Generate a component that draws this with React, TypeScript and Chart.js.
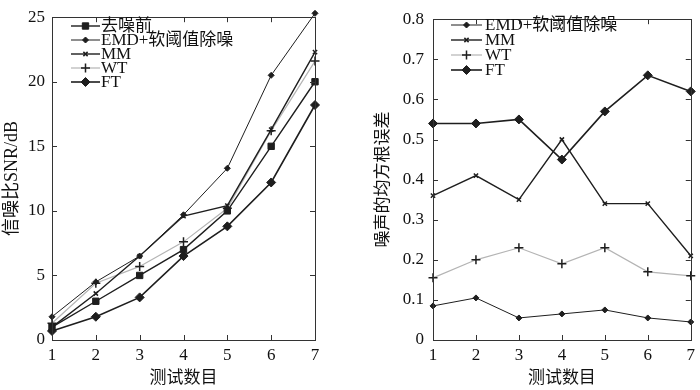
import React, { useEffect, useRef } from 'react';
import { Chart, registerables } from 'chart.js';
import { drawPoint } from 'chart.js/helpers';

Chart.register(...registerables);

// ---------- data ----------
const testNumbers = ['1', '2', '3', '4', '5', '6', '7'];

const snrBefore = [1.0, 3.0, 5.0, 7.0, 10.0, 15.0, 20.0];
const snrEmd = [1.8, 4.5, 6.5, 9.7, 13.3, 20.5, 25.3];
const snrMm = [1.0, 3.6, 6.5, 9.6, 10.4, 16.3, 22.3];
const snrWt = [1.3, 4.4, 5.7, 7.6, 10.2, 16.2, 21.6];
const snrFt = [0.7, 1.8, 3.3, 6.5, 8.8, 12.2, 18.2];

const rmseEmd = [0.085, 0.105, 0.055, 0.065, 0.075, 0.055, 0.045];
const rmseMm = [0.36, 0.41, 0.35, 0.5, 0.34, 0.34, 0.21];
const rmseWt = [0.155, 0.2, 0.23, 0.19, 0.23, 0.17, 0.16];
const rmseFt = [0.54, 0.54, 0.55, 0.45, 0.57, 0.66, 0.62];

const seriesNames = ['去噪前', 'EMD+软阈值除噪', 'MM', 'WT', 'FT'];
const xTitle = '测试数目';
const snrTitle = '信噪比SNR/dB';
const rmseTitle = '噪声的均方根误差';

const SERIF = '"Liberation Serif", "Noto Sans CJK SC", serif';
const DARK = '#1e1e1e';

const styles: Record<string, any> = {
  '去噪前': { borderColor: DARK, backgroundColor: DARK, borderWidth: 1.4, pointStyle: 'rect', pointRadius: 4.5 },
  'EMD+软阈值除噪': { borderColor: DARK, backgroundColor: DARK, borderWidth: 1, pointStyle: 'rectRot', pointRadius: 3 },
  'MM': { borderColor: DARK, backgroundColor: DARK, borderWidth: 1.4, pointStyle: 'crossRot', pointRadius: 3, pointBorderWidth: 1.5 },
  'WT': { borderColor: '#b4b4b4', backgroundColor: DARK, borderWidth: 1.2, pointStyle: 'cross', pointRadius: 4.5, pointBorderColor: DARK, pointBorderWidth: 1.5 },
  'FT': { borderColor: DARK, backgroundColor: DARK, borderWidth: 1.6, pointStyle: 'rectRot', pointRadius: 4.5 },
};

function makeDataset(name: string, data: number[]) {
  const s = styles[name];
  return {
    label: name,
    data,
    borderColor: s.borderColor,
    backgroundColor: s.backgroundColor,
    borderWidth: s.borderWidth,
    pointStyle: s.pointStyle,
    pointRadius: s.pointRadius,
    pointBackgroundColor: DARK,
    pointBorderColor: s.pointBorderColor || DARK,
    pointBorderWidth: s.pointBorderWidth || 1,
    tension: 0,
    fill: false,
    clip: false,
  };
}

const framePlugin = {
  id: 'frame',
  afterDraw(chart: any, _args: any, opts: any) {
    const { ctx, chartArea: a, scales } = chart;
    ctx.save();
    ctx.strokeStyle = '#333';
    ctx.lineWidth = 1;
    ctx.strokeRect(Math.round(a.left) + 0.5, Math.round(a.top) + 0.5, Math.round(a.right - a.left), Math.round(a.bottom - a.top));
    const L = 5;
    ctx.beginPath();
    const xs = scales.x;
    xs.ticks.forEach((_t: any, i: number) => {
      const px = Math.round(xs.getPixelForTick(i)) + 0.5;
      ctx.moveTo(px, a.bottom); ctx.lineTo(px, a.bottom - L);
      ctx.moveTo(px, a.top); ctx.lineTo(px, a.top + L);
    });
    const ys = scales.y;
    ys.ticks.forEach((_t: any, i: number) => {
      const py = Math.round(ys.getPixelForTick(i)) + 0.5;
      ctx.moveTo(a.left, py); ctx.lineTo(a.left + L, py);
      ctx.moveTo(a.right, py); ctx.lineTo(a.right - L, py);
    });
    ctx.stroke();

    // legend
    const lg = opts && opts.legend;
    if (lg) {
      chart.data.datasets.forEach((ds: any, i: number) => {
        const y = lg.y + i * lg.dy;
        ctx.strokeStyle = ds.borderColor;
        ctx.lineWidth = ds.borderWidth;
        ctx.beginPath();
        ctx.moveTo(lg.x0, y);
        ctx.lineTo(lg.x1, y);
        ctx.stroke();
        ctx.fillStyle = DARK;
        ctx.strokeStyle = ds.pointBorderColor;
        ctx.lineWidth = ds.pointBorderWidth;
        drawPoint(ctx, { pointStyle: ds.pointStyle, radius: ds.pointRadius, rotation: 0, borderWidth: ds.pointBorderWidth }, (lg.x0 + lg.x1) / 2, y);
        ctx.fillStyle = '#111';
        ctx.font = '17px ' + SERIF;
        ctx.textBaseline = 'middle';
        ctx.textAlign = 'left';
        ctx.fillText(ds.label, lg.tx, y + 1);
      });
    }
    ctx.restore();
  },
};

function buildConfig(kind: 'snr' | 'rmse'): any {
  const isSnr = kind === 'snr';
  const datasets = isSnr
    ? [
        makeDataset(seriesNames[0], snrBefore),
        makeDataset(seriesNames[1], snrEmd),
        makeDataset(seriesNames[2], snrMm),
        makeDataset(seriesNames[3], snrWt),
        makeDataset(seriesNames[4], snrFt),
      ]
    : [
        makeDataset(seriesNames[1], rmseEmd),
        makeDataset(seriesNames[2], rmseMm),
        makeDataset(seriesNames[3], rmseWt),
        makeDataset(seriesNames[4], rmseFt),
      ];
  return {
    type: 'line',
    data: { labels: testNumbers, datasets },
    plugins: [framePlugin],
    options: {
      responsive: false,
      animation: false,
      layout: { padding: isSnr ? { top: 13, right: 35, left: 0, bottom: 0 } : { top: 8, right: 4, left: 0, bottom: 0 } },
      plugins: {
        legend: { display: false },
        tooltip: { enabled: false },
        frame: {
          legend: isSnr
            ? { x0: 71, x1: 100, tx: 101, y: 26, dy: 14 }
            : { x0: 101, x1: 132, tx: 135, y: 25, dy: 15 },
        },
      },
      scales: {
        x: {
          type: 'category',
          offset: false,
          grid: { display: false, drawTicks: false },
          border: { display: false },
          ticks: { color: '#111', font: { family: SERIF, size: 17 }, padding: 5, maxRotation: 0, autoSkip: false },
          title: { display: true, text: xTitle, color: '#111', font: { family: SERIF, size: 17 }, padding: { top: 0, bottom: 1 } },
          afterFit: (s: any) => { s.height = 50; },
        },
        y: {
          type: 'linear',
          min: 0,
          max: isSnr ? 25 : 0.8,
          grid: { display: false, drawTicks: false },
          border: { display: false },
          ticks: {
            stepSize: isSnr ? 5 : 0.1,
            color: '#111',
            font: { family: SERIF, size: 17 },
            padding: isSnr ? 7 : 9,
            callback: (v: any) => (isSnr ? String(v) : v === 0 ? '0' : Number(v).toFixed(1)),
          },
          title: {
            display: true,
            text: isSnr ? snrTitle : rmseTitle,
            color: '#111',
            font: { family: SERIF, size: isSnr ? 18 : 17 },
            padding: { top: isSnr ? 1 : 23, bottom: 0 },
          },
          afterFit: (s: any) => { s.width = isSnr ? 52 : 83; },
        },
      },
    },
  };
}

function ChartBox({ kind, left }: { kind: 'snr' | 'rmse'; left: number }) {
  const ref = useRef<HTMLCanvasElement | null>(null);
  useEffect(() => {
    if (!ref.current) return;
    const chart = new Chart(ref.current, buildConfig(kind));
    return () => chart.destroy();
  }, [kind]);
  return (
    <div style={{ position: 'absolute', left, top: 0, width: 350, height: 390 }}>
      <canvas ref={ref} width={350} height={390} style={{ width: 350, height: 390, display: 'block' }} />
    </div>
  );
}

export default function App() {
  return (
    <div style={{ position: 'fixed', left: 0, top: 0, width: 700, height: 390, background: '#fff', overflow: 'hidden' }}>
      <ChartBox kind="snr" left={0} />
      <ChartBox kind="rmse" left={350} />
    </div>
  );
}
